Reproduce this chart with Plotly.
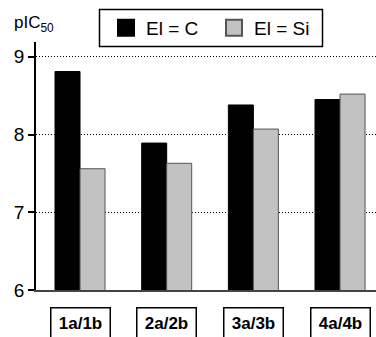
import plotly.graph_objects as go

categories = ["1a/1b", "2a/2b", "3a/3b", "4a/4b"]
series_names = ["El = C", "El = Si"]
values_c = [8.81, 7.89, 8.38, 8.45]
values_si = [7.56, 7.63, 8.07, 8.52]
y_ticks = [6, 7, 8, 9]

FONT = "Liberation Sans, Arial, sans-serif"
fills = ["#000000", "#c2c2c2"]
outlines = ["#000000", "#555555"]

L, R, T, B, W, H = 36, 0, 42, 47, 376, 337
PW, PH = W - L - R, H - T - B

def px_x(x):
    return (x - L) / PW

def px_y(y):
    return 1 + (T - y) / PH

fig = go.Figure()
for name, vals, fc, lc in zip(series_names, [values_c, values_si], fills, outlines):
    fig.add_trace(go.Bar(x=categories, y=vals, name=name, showlegend=False,
                         marker=dict(color=fc, line=dict(color=lc, width=1))))
# legend entries with larger square symbols
for name, fc, lc in zip(series_names, fills, outlines):
    fig.add_trace(go.Scatter(x=[None], y=[None], mode="markers", name=name,
                             marker=dict(symbol="square", size=16, color=fc,
                                         line=dict(color=lc, width=2))))

for c in categories:
    fig.add_annotation(x=c, xref="x", y=-0.132, yref="paper", text="<b>%s</b>" % c,
                       showarrow=False, font=dict(family=FONT, size=17, color="black"),
                       bordercolor="black", borderwidth=1.5, borderpad=5, width=48,
                       xanchor="center", yanchor="middle")

fig.add_annotation(x=px_x(12), xref="paper", y=px_y(24), yref="paper", text="pIC<sub>50</sub>",
                   showarrow=False, font=dict(family=FONT, size=17, color="black"),
                   xanchor="left", yanchor="middle")

# legend frame
fig.add_shape(type="rect", xref="paper", yref="paper",
              x0=px_x(99.5), x1=px_x(322.5), y0=px_y(46.5), y1=px_y(9.5),
              line=dict(color="black", width=1.5), fillcolor="rgba(0,0,0,0)", layer="above")

fig.update_layout(
    width=W, height=H,
    margin=dict(l=L, r=R, t=T, b=B, autoexpand=False),
    paper_bgcolor="white", plot_bgcolor="white",
    barmode="group", bargap=0.423, bargroupgap=0,
    font=dict(family=FONT, color="black"),
    showlegend=True,
    legend=dict(orientation="h", x=px_x(106), y=px_y(28), xanchor="left", yanchor="middle",
                borderwidth=0, bgcolor="rgba(0,0,0,0)", entrywidth=63,
                font=dict(family=FONT, size=19, color="black")),
    xaxis=dict(type="category", range=[-0.508, 3.415], showticklabels=False,
               showline=True, linecolor="#444444", linewidth=2, ticks="",
               showgrid=False, zeroline=False),
    yaxis=dict(range=[6, 9.19], tickvals=y_ticks, ticktext=[str(t) for t in y_ticks],
               showline=True, linecolor="black", linewidth=1.5,
               ticks="outside", ticklen=6, tickwidth=1.5, tickcolor="black",
               tickfont=dict(family=FONT, size=19, color="black"),
               showgrid=True, gridcolor="black", gridwidth=1.2, griddash="1px,2px",
               zeroline=False),
)

fig.write_html("out.html", config={"displayModeBar": False},
               post_script="document.body.style.margin='0';document.body.style.overflow='hidden';")
